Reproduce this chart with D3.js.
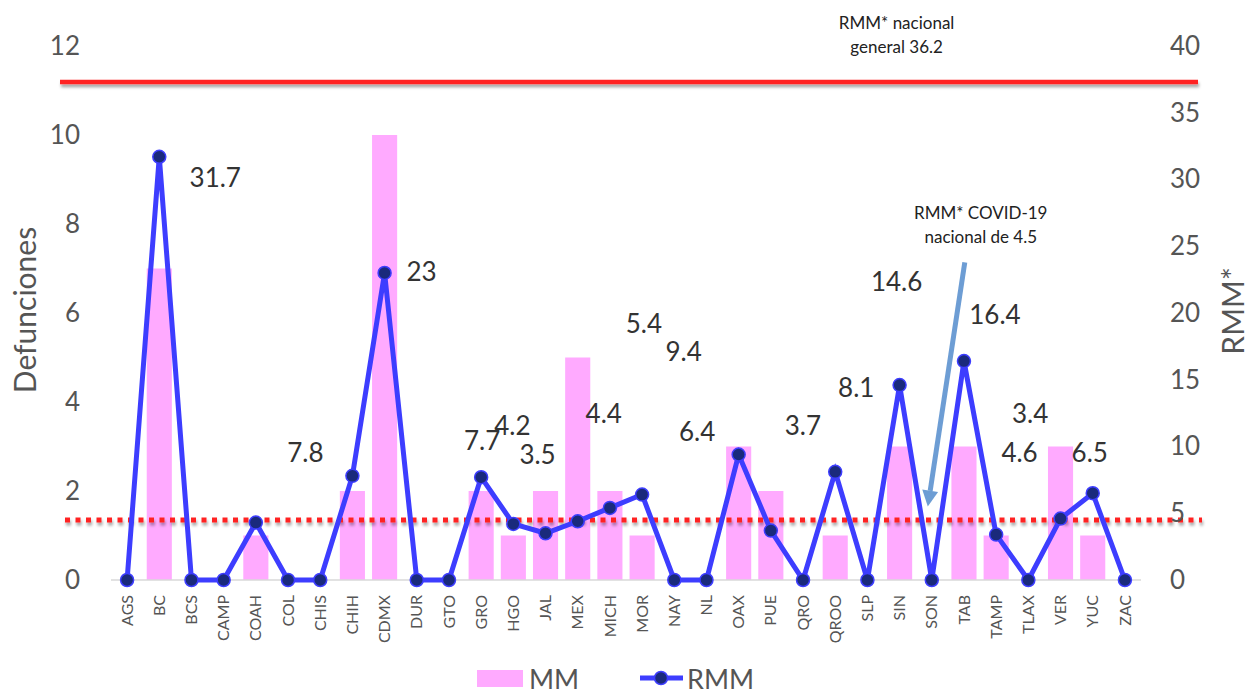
<!DOCTYPE html>
<html>
<head>
<meta charset="utf-8">
<script src="https://cdn.jsdelivr.net/npm/d3@7"></script>
<style>
  body { margin: 0; background: #fff; }
  text { font-family: Lato, "Open Sans", sans-serif; }
</style>
</head>
<body>
<svg id="chart"></svg>
<script>
var states = ["AGS","BC","BCS","CAMP","COAH","COL","CHIS","CHIH","CDMX","DUR","GTO","GRO","HGO","JAL","MEX","MICH","MOR","NAY","NL","OAX","PUE","QRO","QROO","SLP","SIN","SON","TAB","TAMP","TLAX","VER","YUC","ZAC"];
var mm  = [0,7,0,0,1,0,0,2,10,0,0,2,1,2,5,2,1,0,0,3,2,0,1,0,3,0,3,1,0,3,1,0];
var rmm = [0,31.7,0,0,4.3,0,0,7.8,23,0,0,7.7,4.2,3.5,4.4,5.4,6.4,0,0,9.4,3.7,0,8.1,0,14.6,0,16.4,3.4,0,4.6,6.5,0];
var leftTicks  = [0,2,4,6,8,10,12];
var rightTicks = [0,5,10,15,20,25,30,35,40];
var rmmGeneral = 37.3;   // where the solid red line sits in the picture
var rmmCovid = 4.5;
var labelled = ["BC","CHIH","CDMX","GRO","HGO","JAL","MEX","MICH","MOR","OAX","PUE","QROO","SIN","TAB","TAMP","VER","YUC"];
// label offsets from their point, in px, as placed in the original
var labelOffset = {
  BC:[56,21], CHIH:[-47,-23], CDMX:[37,-1], GRO:[1,-37], HGO:[-1,-98], JAL:[-8,-79],
  MEX:[26,-108], MICH:[34,-184], MOR:[55,-63], OAX:[-55,-103], PUE:[32,-105],
  QROO:[21,-84], SIN:[-3,-103], TAB:[31,-46], TAMP:[34,-121], VER:[-41,-66], YUC:[-3,-41]
};

var dimensions = { width: 1249, height: 699, left: 111, right: 1141, top: 46, bottom: 580 };

var data = states.map((s, i) => ({ state: s, mm: mm[i], rmm: rmm[i] }));

var svg = d3.select("#chart")
            .attr("width", dimensions.width)
            .attr("height", dimensions.height);

var defs = svg.append("defs");
defs.append("filter").attr("id", "shadow")
    .attr("filterUnits", "userSpaceOnUse")
    .attr("x", 0).attr("y", 0).attr("width", dimensions.width).attr("height", dimensions.height)
    .append("feDropShadow")
    .attr("dx", 1).attr("dy", 3).attr("stdDeviation", 1.5)
    .attr("flood-color", "#000").attr("flood-opacity", 0.35);

var xScale = d3.scaleBand()
               .domain(states)
               .range([dimensions.left, dimensions.right])
               .paddingInner(0.22)
               .paddingOuter(0.11);

var yLeft = d3.scaleLinear().domain([0, 12]).range([dimensions.bottom, dimensions.top]);
var yRight = d3.scaleLinear().domain([0, 40]).range([dimensions.bottom, dimensions.top]);
var cx = d => xScale(d) + xScale.bandwidth() / 2;

// bars
svg.append("g")
   .selectAll("rect")
   .data(data)
   .enter()
   .append("rect")
   .attr("x", d => xScale(d.state))
   .attr("y", d => yLeft(d.mm))
   .attr("width", xScale.bandwidth())
   .attr("height", d => yLeft(0) - yLeft(d.mm))
   .attr("fill", "#ffaaff");

// baseline
svg.append("line")
   .attr("x1", dimensions.left).attr("x2", dimensions.right)
   .attr("y1", dimensions.bottom).attr("y2", dimensions.bottom)
   .attr("stroke", "#d9d9d9").attr("stroke-width", 1.5);

// reference lines
svg.append("line")
   .attr("x1", 60).attr("x2", 1198)
   .attr("y1", yRight(rmmGeneral)).attr("y2", yRight(rmmGeneral))
   .attr("stroke", "#ff2222").attr("stroke-width", 4.5)
   .attr("filter", "url(#shadow)");

svg.append("line")
   .attr("x1", 65).attr("x2", 1202)
   .attr("y1", yRight(rmmCovid)).attr("y2", yRight(rmmCovid))
   .attr("stroke", "#ff2020").attr("stroke-width", 5)
   .attr("stroke-dasharray", "5 5.5")
   .attr("filter", "url(#shadow)");

// RMM line
var line = d3.line()
             .x(d => cx(d.state))
             .y(d => yRight(d.rmm));

svg.append("path")
   .datum(data)
   .attr("d", line)
   .attr("fill", "none")
   .attr("stroke", "#3d3dff")
   .attr("stroke-width", 5)
   .attr("stroke-linejoin", "miter");

svg.append("g")
   .selectAll("circle")
   .data(data)
   .enter()
   .append("circle")
   .attr("cx", d => cx(d.state))
   .attr("cy", d => yRight(d.rmm))
   .attr("r", 6.5)
   .attr("fill", "#1a2a7c")
   .attr("stroke", "#3d3dff")
   .attr("stroke-width", 1.5);

// data labels
svg.append("g")
   .selectAll("text")
   .data(data.filter(d => labelled.includes(d.state)))
   .enter()
   .append("text")
   .attr("x", d => cx(d.state) + labelOffset[d.state][0])
   .attr("y", d => yRight(d.rmm) + labelOffset[d.state][1])
   .attr("dy", "0.36em")
   .attr("text-anchor", "middle")
   .attr("font-size", 26)
   .attr("fill", "#333")
   .text(d => d.rmm);

// axes
var yAxisLeft = svg.append("g")
   .attr("transform", "translate(80,0)")
   .call(d3.axisLeft(yLeft).tickValues(leftTicks).tickSize(0).tickPadding(0));
yAxisLeft.select(".domain").remove();
yAxisLeft.selectAll("text").attr("font-size", 26).attr("fill", "#555").attr("font-family", "Lato");

var yAxisRight = svg.append("g")
   .attr("transform", "translate(1170,0)")
   .call(d3.axisRight(yRight).tickValues(rightTicks).tickSize(0).tickPadding(0));
yAxisRight.select(".domain").remove();
yAxisRight.selectAll("text").attr("font-size", 26).attr("fill", "#555").attr("font-family", "Lato");

var xAxis = svg.append("g")
   .attr("transform", `translate(0,${dimensions.bottom})`)
   .call(d3.axisBottom(xScale).tickSize(0));
xAxis.select(".domain").remove();
xAxis.selectAll("text")
     .attr("transform", "rotate(-90)")
     .attr("text-anchor", "end")
     .attr("x", -15).attr("y", 0).attr("dy", "0.35em")
     .attr("font-size", 16).attr("fill", "#555").attr("font-family", "Lato");

// axis titles
svg.append("text")
   .attr("transform", "translate(36,310) rotate(-90)")
   .attr("text-anchor", "middle")
   .attr("font-size", 30).attr("fill", "#555")
   .text("Defunciones");

svg.append("text")
   .attr("transform", "translate(1244,311) rotate(-90)")
   .attr("text-anchor", "middle")
   .attr("font-size", 30).attr("fill", "#555")
   .text("RMM*");

// annotations
var noteTop = svg.append("text")
   .attr("text-anchor", "middle")
   .attr("font-size", 17).attr("fill", "#222");
noteTop.append("tspan").attr("x", cx("SIN") - 3).attr("y", 29).text("RMM* nacional");
noteTop.append("tspan").attr("x", cx("SIN") - 3).attr("y", 53).text("general 36.2");

var noteCovid = svg.append("text")
   .attr("text-anchor", "middle")
   .attr("font-size", 17).attr("fill", "#222");
noteCovid.append("tspan").attr("x", cx("SON") + 49).attr("y", 219).text("RMM* COVID-19");
noteCovid.append("tspan").attr("x", cx("SON") + 49).attr("y", 243).text("nacional de 4.5");

// arrow pointing to the covid line
var tail = [cx("SON") + 33, yRight(23.8)];
var tip = [cx("SON") - 4, yRight(5.5)];
var ang = Math.atan2(tip[1] - tail[1], tip[0] - tail[0]);
var headLen = 16, headW = 8;
var base = [tip[0] - headLen * Math.cos(ang), tip[1] - headLen * Math.sin(ang)];
svg.append("line")
   .attr("x1", tail[0]).attr("y1", tail[1])
   .attr("x2", base[0]).attr("y2", base[1])
   .attr("stroke", "#6d9dd4").attr("stroke-width", 5);
svg.append("polygon")
   .attr("points", [
      tip,
      [base[0] + headW * Math.sin(ang), base[1] - headW * Math.cos(ang)],
      [base[0] - headW * Math.sin(ang), base[1] + headW * Math.cos(ang)]
   ].map(p => p.join(",")).join(" "))
   .attr("fill", "#6d9dd4");

// legend
var legend = svg.append("g");
legend.append("rect")
      .attr("x", 477).attr("y", 670).attr("width", 46).attr("height", 17)
      .attr("fill", "#ffaaff");
legend.append("text")
      .attr("x", 529).attr("y", 689)
      .attr("font-size", 27).attr("fill", "#555")
      .text("MM");
legend.append("line")
      .attr("x1", 640).attr("x2", 683).attr("y1", 678).attr("y2", 678)
      .attr("stroke", "#3d3dff").attr("stroke-width", 5);
legend.append("circle")
      .attr("cx", 661).attr("cy", 678).attr("r", 6.5)
      .attr("fill", "#1a2a7c").attr("stroke", "#3d3dff").attr("stroke-width", 1.5);
legend.append("text")
      .attr("x", 687).attr("y", 689)
      .attr("font-size", 27).attr("fill", "#555")
      .text("RMM");
</script>
</body>
</html>
